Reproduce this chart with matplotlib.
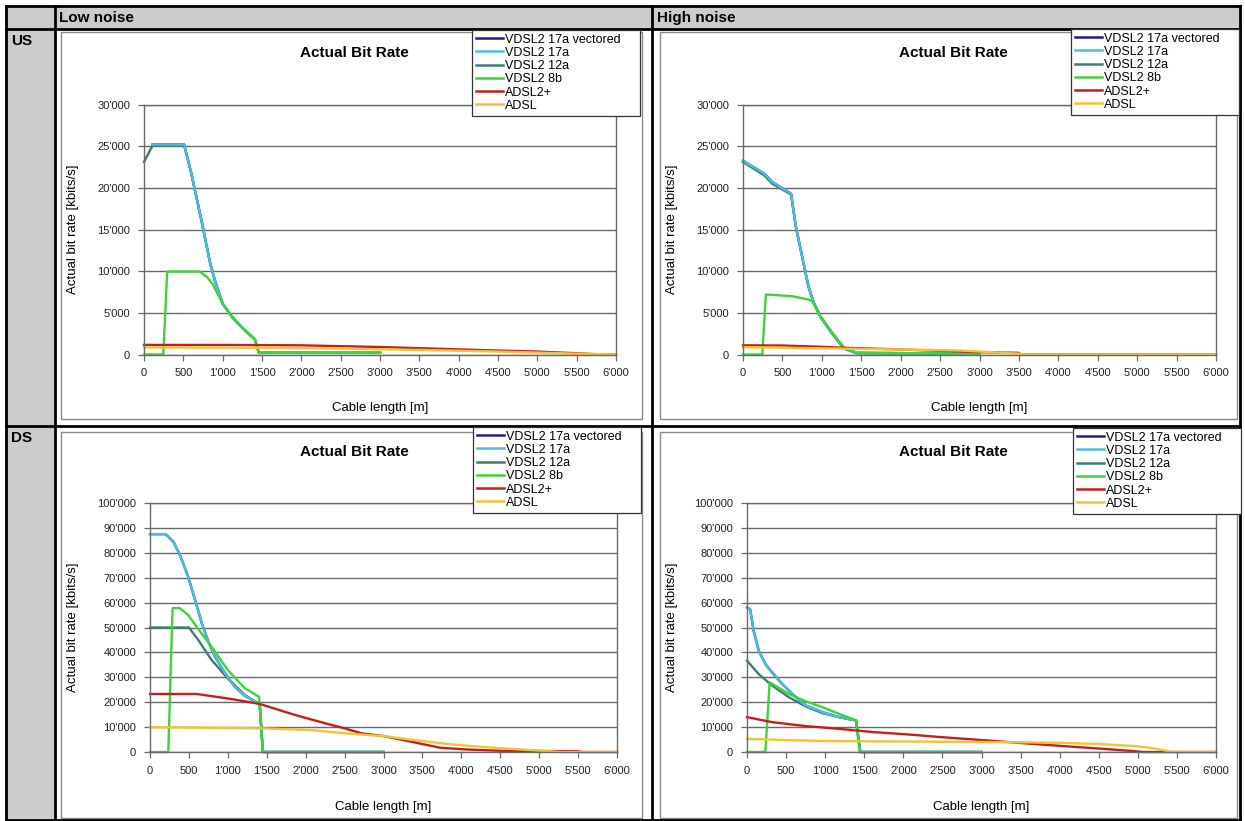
import matplotlib
matplotlib.use("Agg")
import matplotlib.pyplot as plt
from matplotlib.patches import Rectangle
from matplotlib.lines import Line2D
from matplotlib.ticker import FuncFormatter, MultipleLocator

plt.rcParams['font.family'] = ['Liberation Sans', 'DejaVu Sans']

# series names / colours (legend order)
names = ["VDSL2 17a vectored", "VDSL2 17a", "VDSL2 12a", "VDSL2 8b", "ADSL2+", "ADSL"]
colors = ["#1c1c9c", "#4bbfd6", "#3f7f70", "#3ed23e", "#c21f1f", "#f2c530"]

# ---- US, low noise
us_lo_vec_x = [110, 510, 600, 730, 840, 900, 1000, 1120, 1250, 1410, 1460, 3000]
us_lo_vec_y = [25200, 25200, 21800, 16100, 11000, 8900, 6100, 4500, 3200, 1800, 200, 200]
us_lo_17a_x = [110, 510, 600, 730, 840, 900, 1000, 1120, 1250, 1410, 1460, 3000]
us_lo_17a_y = [25200, 25200, 21800, 16100, 11000, 8900, 6100, 4500, 3200, 1800, 200, 200]
us_lo_12a_x = [0, 110, 510, 600, 730, 840, 900, 1000, 1120, 1250, 1410, 1460, 3000]
us_lo_12a_y = [23100, 25100, 25100, 21800, 16100, 11000, 8900, 6100, 4500, 3200, 1800, 200, 200]
us_lo_8b_x = [0, 245, 295, 710, 800, 870, 1000, 1120, 1250, 1410, 1460, 3000]
us_lo_8b_y = [0, 0, 9950, 9950, 9300, 8500, 6100, 4500, 3200, 1800, 200, 200]
us_lo_adsl2_x = [0, 1000, 2000, 2500, 3000, 3700, 4400, 5000, 5500, 5800, 6000]
us_lo_adsl2_y = [1150, 1150, 1100, 1000, 900, 700, 500, 350, 150, 0, 0]
us_lo_adsl_x = [0, 1500, 2500, 3500, 4500, 5500, 6000]
us_lo_adsl_y = [850, 800, 700, 550, 350, 100, 0]

# ---- US, high noise
us_hi_vec_x = [0, 270, 370, 610, 670, 750, 830, 900, 980, 1130, 1280, 1440, 3000]
us_hi_vec_y = [23250, 21700, 20700, 19300, 15400, 11800, 8200, 6200, 4600, 2600, 800, 200, 100]
us_hi_17a_x = [0, 270, 370, 610, 670, 750, 830, 900, 980, 1130, 1280, 1440, 3000]
us_hi_17a_y = [23250, 21700, 20700, 19300, 15400, 11800, 8200, 6200, 4600, 2600, 800, 200, 100]
us_hi_12a_x = [0, 270, 370, 610, 670, 750, 830, 900, 980, 1130, 1280, 1440, 3000]
us_hi_12a_y = [23100, 21500, 20500, 19200, 15300, 11700, 8100, 6100, 4500, 2500, 700, 150, 100]
us_hi_8b_x = [0, 245, 290, 620, 830, 880, 980, 1130, 1280, 1440, 3000]
us_hi_8b_y = [0, 0, 7200, 7000, 6600, 6400, 4600, 2600, 800, 200, 100]
us_hi_adsl2_x = [0, 500, 1000, 1300, 1750, 2250, 2650, 3000, 3500, 3520, 6000]
us_hi_adsl2_y = [1100, 1080, 920, 800, 680, 520, 400, 280, 200, 0, 0]
us_hi_adsl_x = [0, 1300, 2000, 2750, 3000, 3500, 3600, 6000]
us_hi_adsl_y = [880, 700, 600, 480, 350, 100, 0, 0]

# ---- DS, low noise
ds_lo_vec_x = [0, 200, 300, 385, 490, 580, 665, 750, 835, 965, 1090, 1220, 1410, 1450, 3000]
ds_lo_vec_y = [87500, 87500, 84500, 79100, 70400, 61000, 51700, 44300, 38300, 31600, 26200, 22500, 19300, 0, 0]
ds_lo_17a_x = [0, 200, 300, 385, 490, 580, 665, 750, 835, 965, 1090, 1220, 1410, 1450, 3000]
ds_lo_17a_y = [87500, 87500, 84500, 79100, 70400, 61000, 51700, 44300, 38300, 31600, 26200, 22500, 19300, 0, 0]
ds_lo_12a_x = [0, 500, 620, 790, 1000, 1220, 1410, 1450, 3000]
ds_lo_12a_y = [50000, 50000, 45000, 37000, 29500, 22800, 19200, 0, 0]
ds_lo_8b_x = [0, 235, 290, 380, 490, 660, 790, 1000, 1220, 1400, 1450, 3000]
ds_lo_8b_y = [0, 0, 57800, 57800, 55000, 47700, 42300, 32900, 25600, 22200, 0, 0]
ds_lo_adsl2_x = [0, 600, 1000, 1410, 1860, 2290, 2500, 2720, 3000, 3300, 3730, 4070, 4500, 5000, 5500, 5550, 6000]
ds_lo_adsl2_y = [23300, 23300, 21500, 19300, 14900, 11200, 9500, 7500, 6400, 4500, 1700, 1000, 500, 400, 300, 0, 0]
ds_lo_adsl_x = [0, 400, 1430, 2080, 2500, 3000, 3430, 3860, 4290, 4710, 5140, 5270, 6000]
ds_lo_adsl_y = [9900, 9900, 9500, 8800, 7500, 6400, 4650, 3100, 2000, 1100, 300, 0, 0]

# ---- DS, high noise
ds_hi_vec_x = [0, 40, 85, 150, 235, 320, 450, 580, 750, 965, 1180, 1395, 1450, 3000]
ds_hi_vec_y = [58000, 57300, 48700, 40700, 35300, 32000, 27300, 23300, 18700, 16000, 14000, 12700, 0, 0]
ds_hi_17a_x = [0, 40, 85, 150, 235, 320, 450, 580, 750, 965, 1180, 1395, 1450, 3000]
ds_hi_17a_y = [58000, 57300, 48700, 40700, 35300, 32000, 27300, 23300, 18700, 16000, 14000, 12700, 0, 0]
ds_hi_12a_x = [0, 150, 320, 535, 750, 965, 1180, 1395, 1450, 3000]
ds_hi_12a_y = [36700, 31300, 26700, 22000, 18300, 15600, 14000, 12700, 0, 0]
ds_hi_8b_x = [0, 235, 290, 535, 750, 965, 1180, 1395, 1440, 3000]
ds_hi_8b_y = [0, 0, 28000, 23300, 20400, 18000, 15300, 12700, 0, 0]
ds_hi_adsl2_x = [0, 320, 750, 1180, 1610, 2040, 2470, 3000, 3510, 4030, 4540, 4930, 5060, 6000]
ds_hi_adsl2_y = [14000, 12000, 10400, 9300, 8000, 7100, 6000, 4800, 3600, 2400, 1300, 400, 0, 0]
ds_hi_adsl_x = [0, 500, 1000, 2000, 3000, 3500, 4000, 4500, 5000, 5200, 5350, 5420, 6000]
ds_hi_adsl_y = [5300, 4800, 4400, 4200, 4000, 3900, 3700, 3200, 2300, 1500, 600, 0, 0]

W, H = 1245, 821
fig = plt.figure(figsize=(W / 100, H / 100), dpi=100)


def fx(px):
    return px / W


def fy(py):
    return 1 - py / H


def rect(x0, y0, x1, y1, **kw):
    fig.add_artist(Rectangle((fx(x0), fy(y1)), fx(x1 - x0), (y1 - y0) / H,
                             transform=fig.transFigure, zorder=-2, **kw))


def hline(y, x0, x1, lw=2):
    fig.add_artist(Line2D([fx(x0), fx(x1)], [fy(y), fy(y)], color='black', lw=lw,
                          transform=fig.transFigure, zorder=-1))


def vline(x, y0, y1, lw=2):
    fig.add_artist(Line2D([fx(x), fx(x)], [fy(y0), fy(y1)], color='black', lw=lw,
                          transform=fig.transFigure, zorder=-1))


# table background / grid
gray = "#cccccc"
rect(6, 6, 1240, 29, facecolor=gray, edgecolor='none')
rect(6, 6, 55, 820, facecolor=gray, edgecolor='none')
hline(6, 6, 1240)
hline(29, 6, 1240)
hline(426, 6, 1240)
hline(820, 6, 1240)
vline(6, 6, 820)
vline(55, 6, 820)
vline(652, 6, 820)
vline(1240, 6, 820)

hdr = dict(fontsize=11, fontweight='bold', va='center', ha='left')
fig.text(fx(59), fy(18), "Low noise", **hdr)
fig.text(fx(657), fy(18), "High noise", **hdr)
fig.text(fx(11), fy(41), "US", **hdr)
fig.text(fx(11), fy(438), "DS", **hdr)

# chart frames
rect(61, 32, 642, 419, facecolor='white', edgecolor='#8a8a8a', lw=1)
rect(660, 32, 1237, 419, facecolor='white', edgecolor='#8a8a8a', lw=1)
rect(61, 432, 642, 818, facecolor='white', edgecolor='#8a8a8a', lw=1)
rect(660, 432, 1237, 818, facecolor='white', edgecolor='#8a8a8a', lw=1)

panels = [
    dict(box=(144, 104.5, 616, 354.5), ymax=30000, ystep=5000, fl=61, lx=472, ly=38, tx=354, ty=53, xl=408,
         xs=[us_lo_vec_x, us_lo_17a_x, us_lo_12a_x, us_lo_8b_x, us_lo_adsl2_x, us_lo_adsl_x],
         ys=[us_lo_vec_y, us_lo_17a_y, us_lo_12a_y, us_lo_8b_y, us_lo_adsl2_y, us_lo_adsl_y]),
    dict(box=(743, 104.5, 1216, 354.5), ymax=30000, ystep=5000, fl=660, lx=1071, ly=37, tx=953, ty=53, xl=408,
         xs=[us_hi_vec_x, us_hi_17a_x, us_hi_12a_x, us_hi_8b_x, us_hi_adsl2_x, us_hi_adsl_x],
         ys=[us_hi_vec_y, us_hi_17a_y, us_hi_12a_y, us_hi_8b_y, us_hi_adsl2_y, us_hi_adsl_y]),
    dict(box=(150, 503, 617, 752), ymax=100000, ystep=10000, fl=61, lx=473, ly=435, tx=354, ty=452, xl=807,
         xs=[ds_lo_vec_x, ds_lo_17a_x, ds_lo_12a_x, ds_lo_8b_x, ds_lo_adsl2_x, ds_lo_adsl_x],
         ys=[ds_lo_vec_y, ds_lo_17a_y, ds_lo_12a_y, ds_lo_8b_y, ds_lo_adsl2_y, ds_lo_adsl_y]),
    dict(box=(747, 503, 1216, 752), ymax=100000, ystep=10000, fl=660, lx=1073, ly=436, tx=953, ty=452, xl=807,
         xs=[ds_hi_vec_x, ds_hi_17a_x, ds_hi_12a_x, ds_hi_8b_x, ds_hi_adsl2_x, ds_hi_adsl_x],
         ys=[ds_hi_vec_y, ds_hi_17a_y, ds_hi_12a_y, ds_hi_8b_y, ds_hi_adsl2_y, ds_hi_adsl_y]),
]

fmt = FuncFormatter(lambda v, p: f"{v:,.0f}".replace(",", "'"))
draw_order = [0, 2, 1, 3, 4, 5]

for p in panels:
    x0, y0, x1, y1 = p['box']
    ax = fig.add_axes([fx(x0), fy(y1), (x1 - x0) / W, (y1 - y0) / H])
    ax.set_xlim(0, 6000)
    ax.set_ylim(0, p['ymax'])
    ax.xaxis.set_major_locator(MultipleLocator(500))
    ax.yaxis.set_major_locator(MultipleLocator(p['ystep']))
    ax.xaxis.set_major_formatter(fmt)
    ax.yaxis.set_major_formatter(fmt)
    ax.grid(axis='y', color='#6a6a6a', lw=1.0)
    ax.set_axisbelow(True)
    for s in ax.spines.values():
        s.set_color('#6a6a6a')
        s.set_linewidth(1.0)
    ax.tick_params(direction='out', length=4, width=0.9, color='#6a6a6a',
                   labelsize=8, labelcolor='#222222', pad=6)
    for i in draw_order:
        ax.plot(p['xs'][i], p['ys'][i], color=colors[i], lw=1.7, clip_on=False,
                solid_joinstyle='round')

    cx = (x0 + x1) / 2
    fig.text(fx(p['tx']), fy(p['ty']), "Actual Bit Rate", fontsize=11, fontweight='bold',
             ha='center', va='center')
    fig.text(fx(cx), fy(p['xl']), "Cable length [m]", fontsize=9.5, ha='center', va='center')
    fig.text(fx(p['fl'] + 12), fy((y0 + y1) / 2), "Actual bit rate [kbits/s]", fontsize=9.5,
             rotation=90, ha='center', va='center')

    handles = [Line2D([], [], color=c, lw=1.8) for c in colors]
    leg = fig.legend(handles, names, loc='upper left',
                     bbox_to_anchor=(fx(p['lx']), fy(p['ly']), 168 / W, 0.01),
                     mode='expand', bbox_transform=fig.transFigure, borderaxespad=0,
                     fontsize=9, handlelength=2.2, handletextpad=0.15, labelspacing=0.1,
                     borderpad=0.3, fancybox=False, framealpha=1, edgecolor='#333333')
    leg.get_frame().set_linewidth(0.9)

fig.savefig("out.png", dpi=100)
